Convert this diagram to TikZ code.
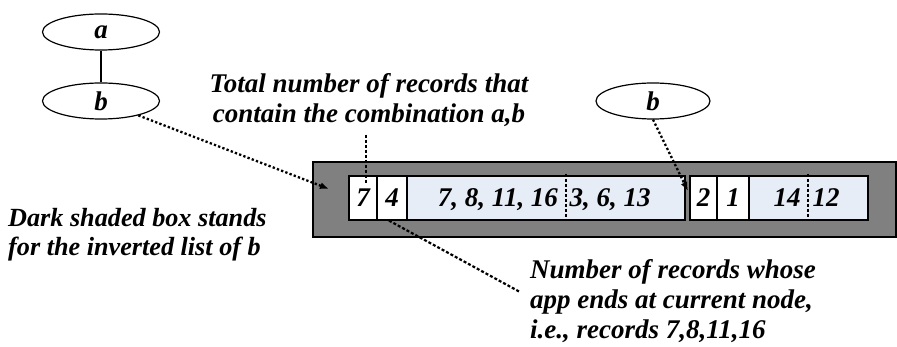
\documentclass[tikz,border=0pt]{standalone}
\usepackage{fontspec}
\setmainfont{Liberation Serif}
\usetikzlibrary{shapes.geometric,arrows.meta}
\definecolor{celeste}{RGB}{231,237,247}

\begin{document}
\begin{tikzpicture}[x=1pt,y=-1pt,
  font=\fontsize{27}{30}\selectfont\bfseries\itshape,
  elipse/.style={draw,line width=1.2pt,ellipse,minimum width=117pt,minimum height=36pt,inner sep=0pt},
  celda/.style={draw,line width=1.2pt,fill=white,minimum height=44pt,inner sep=0pt},
  lista/.style={celda,fill=celeste},
  puntos/.style={line width=2.3pt,dash pattern=on 2.3pt off 2.2pt,-{Latex[length=9pt,width=7pt]}},
  rayas/.style={line width=2.2pt,dash pattern=on 3pt off 2pt},
  texto/.style={inner sep=0pt}]
\useasboundingbox (0,0) rectangle (897,347);

\node[elipse] (a) at (101,32) {a}; % nodo a
\node[elipse] (b) at (101,101) {b}; % nodo b
\draw[line width=1.2pt] (a) -- (b); % arista a-b
\node[elipse,minimum width=114pt] (b2) at (653,101) {b}; % otro nodo b

\node[draw,line width=1.2pt,fill=gray,minimum width=583pt,minimum height=75pt,inner sep=0pt] (caja) at (604.5,199.5) {}; % lista invertida de b

\node[celda,minimum width=28pt] (c7) at (363,198) {7}; % total
\node[celda,minimum width=30pt] (c4) at (392,198) {4}; % terminan aqui
\node[lista,minimum width=278pt] (l1) at (546,198) {}; % registros 1
\node[celda,minimum width=27pt] (c2) at (703.5,198) {2};
\node[celda,minimum width=32pt] (c1) at (733,198) {1};
\node[lista,minimum width=119pt] (l2) at (808.5,198) {}; % registros 2

\node[texto,anchor=base] (r1) at (498,207) {7, 8, 11, 16};
\node[texto,anchor=base] (r2) at (610,207) {3, 6, 13};
\node[texto,anchor=base] (r3) at (787,207) {14};
\node[texto,anchor=base] (r4) at (826,207) {12};
\draw[rayas,line width=1.8pt] (566,174) -- (566,220); % separador 1
\draw[rayas,line width=1.8pt] (808,174) -- (808,220); % separador 2

\node[texto,anchor=north,align=center] (total) at (369,73) {Total number of records that\\contain the combination a,b}; % texto 1
\node[texto,anchor=north west,align=left,font=\fontsize{26.2}{29}\selectfont\bfseries\itshape] (oscura) at (8,208) {Dark shaded box stands\\for the inverted list of b}; % texto 2
\node[texto,anchor=north west,align=left] (numero) at (530,259) {Number of records whose\\app ends at current node,\\i.e., records 7,8,11,16}; % texto 3

\coordinate (p1) at (329,189);
\coordinate (p2) at (688,191);
\coordinate (t7) at (366,183);
\coordinate (n1) at (520,292);
\draw[puntos] (b) -- (p1); % flecha b a la lista
\draw[puntos] (b2.south) -- (p2); % flecha b a la lista 2
\draw[rayas] ([yshift=-8pt]total.south -| t7) -- (t7); % linea al 7
\draw[rayas] ([xshift=-3pt]c4.south) -- (n1); % linea al 4

\end{tikzpicture}
\end{document}
